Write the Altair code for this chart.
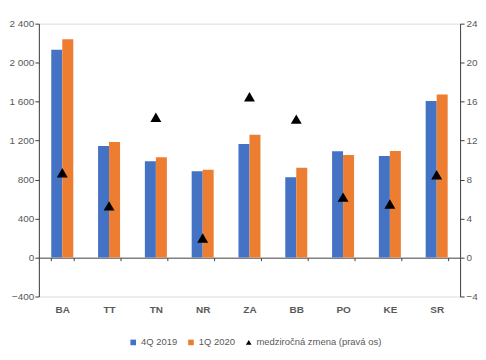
import altair as alt
import pandas as pd

regions = ["BA", "TT", "TN", "NR", "ZA", "BB", "PO", "KE", "SR"]
q4_2019 = [2132, 1144, 988, 886, 1164, 824, 1090, 1042, 1607]
q1_2020 = [2240, 1185, 1029, 902, 1260, 922, 1052, 1093, 1672]
yoy_change = [8.7, 5.3, 14.4, 2.0, 16.5, 14.2, 6.2, 5.5, 8.5]

s1, s2, s3 = "4Q 2019", "1Q 2020", "medziročná zmena (pravá os)"
series_order = [s1, s2, s3]
colors = ["#4472C4", "#ED7D31", "#000000"]
shapes = ["square", "square", "triangle-up"]

bars = pd.DataFrame(
    [{"region": r, "series": s1, "value": v} for r, v in zip(regions, q4_2019)]
    + [{"region": r, "series": s2, "value": v} for r, v in zip(regions, q1_2020)]
)
pts = pd.DataFrame({"region": regions, "series": s3, "value": yoy_change})

FONT = "Liberation Sans"
GRAY = "#595959"
AXC = "#404040"

x = alt.X(
    "region:N",
    sort=regions,
    scale=alt.Scale(paddingInner=0.53, paddingOuter=0.265),
    axis=alt.Axis(
        title=None, orient="bottom", offset=-39, labelAngle=0,
        labelPadding=44, labelFontWeight="bold", labelColor=GRAY, labelFontSize=10,
        domainColor=AXC, tickColor=AXC, tickSize=3, tickBand="extent",
    ),
)

color = alt.Color(
    "series:N",
    scale=alt.Scale(domain=series_order, range=colors),
    legend=alt.Legend(
        title=None, orient="none", direction="horizontal", legendX=90, legendY=315,
        symbolSize=32, labelFontSize=9.5, labelColor=GRAY, columnPadding=9,
        symbolStrokeWidth=0, labelOffset=3,
    ),
)

bar_layer = alt.Chart(bars).mark_bar().encode(
    x=x,
    xOffset=alt.XOffset("series:N", sort=[s1, s2], scale=alt.Scale(paddingInner=0)),
    y=alt.Y(
        "value:Q",
        scale=alt.Scale(domain=[-400, 2400], nice=False),
        axis=alt.Axis(
            title=None, values=list(range(-400, 2401, 400)), grid=False,
            labelExpr="replace(format(datum.value, ','), ',', ' ')",
            labelColor=GRAY, labelFontSize=10, labelPadding=1,
            domainColor=AXC, tickColor=AXC, tickSize=4,
        ),
    ),
    color=color,
)

point_layer = alt.Chart(pts).mark_point(filled=True, size=120, opacity=1).encode(
    x=alt.X("region:N", sort=regions),
    y=alt.Y(
        "value:Q",
        scale=alt.Scale(domain=[-4, 24], nice=False),
        axis=alt.Axis(
            title=None, orient="right", values=list(range(-4, 25, 4)), grid=False,
            labelColor=GRAY, labelFontSize=10, labelPadding=2,
            domainColor=AXC, tickColor=AXC, tickSize=4,
        ),
    ),
    color=alt.Color("series:N", scale=alt.Scale(domain=series_order, range=colors)),
    shape=alt.Shape("series:N", scale=alt.Scale(domain=series_order, range=shapes), legend=None),
)

chart = (
    alt.layer(bar_layer, point_layer)
    .resolve_scale(y="independent")
    .properties(width=423, height=274, padding={"left": 0, "top": 10, "right": 0, "bottom": 0})
    .configure_view(stroke=None)
    .configure(font=FONT)
)

chart.save("out.html", embed_options={"renderer": "svg", "actions": False})
